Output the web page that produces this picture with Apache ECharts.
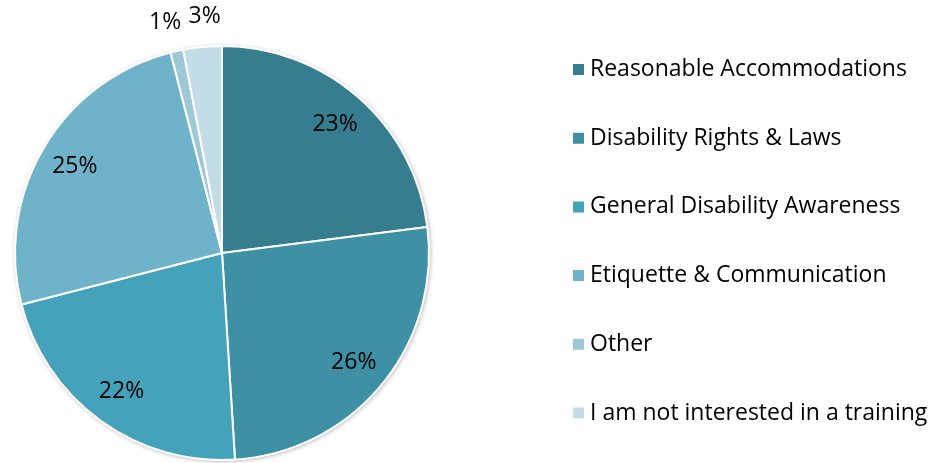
<!DOCTYPE html>
<html>
<head>
<meta charset="utf-8">
<script src="https://cdn.jsdelivr.net/npm/echarts@6/dist/echarts.min.js"></script>
<style>
  html, body { margin: 0; padding: 0; background: #ffffff; }
  #chart { width: 945px; height: 463px; }
</style>
</head>
<body>
<div id="chart"></div>
<script>
// Training topics of interest (percent of responses)
const categories = [
  'Reasonable Accommodations',
  'Disability Rights & Laws',
  'General Disability Awareness',
  'Etiquette & Communication',
  'Other',
  'I am not interested in a training'
];
const values = [23, 26, 22, 25, 1, 3];
const colors = ['#367e8f', '#3e90a5', '#45a2bb', '#6fb3ca', '#9fc8d7', '#c2dde6'];
// thin slices get their label just outside the rim
const outsideLabel = [false, false, false, false, true, true];

const FONT = '"Open Sans"';
const FS = 23;
const CX = 222, CY = 253, R = 207;
const INNER_LABEL_R = 168;
const OUTER_LABEL_R = 235;
// small nudge that keeps the two outside labels apart
const OUTER_NUDGE = { 4: [-5, 2], 5: [5, 0] };

const pieData = categories.map((name, i) => ({
  name, value: values[i], itemStyle: { color: colors[i] }
}));

const labelStyle = {
  position: 'inside',
  formatter: '{c}%',
  color: '#000000',
  fontFamily: FONT,
  fontSize: FS
};

// Transparent copy of the pie whose 'inside' labels sit at half its radius
function labelSeries(showFn, labelR, nudge) {
  const d = nudge || [0, 0];
  return {
    type: 'pie',
    silent: true,
    center: [CX, CY],
    radius: [0, labelR * 2],
    startAngle: 90,
    clockwise: true,
    avoidLabelOverlap: false,
    legendHoverLink: false,
    itemStyle: { color: 'rgba(0,0,0,0)' },
    label: labelStyle,
    labelLine: { show: false },
    labelLayout: { hideOverlap: false, dx: d[0], dy: d[1] },
    data: categories.map((name, i) => ({
      name, value: values[i], label: { show: showFn(i) }
    }))
  };
}

const series = [
  {
    // soft shadow along the rim
    type: 'pie',
    silent: true,
    center: [CX, CY],
    radius: R,
    legendHoverLink: false,
    label: { show: false },
    labelLine: { show: false },
    itemStyle: { color: '#ffffff', shadowBlur: 5, shadowColor: 'rgba(0,0,0,0.35)', shadowOffsetX: 1, shadowOffsetY: 1 },
    data: [{ name: '__rim', value: 1 }]
  },
  {
    type: 'pie',
    name: 'topics',
    center: [CX, CY],
    radius: R,
    startAngle: 90,
    clockwise: true,
    avoidLabelOverlap: false,
    label: { show: false },
    labelLine: { show: false },
    itemStyle: { borderColor: '#ffffff', borderWidth: 2 },
    data: pieData
  },
  labelSeries(i => !outsideLabel[i], INNER_LABEL_R, null)
];
// one series per outside label so each can be nudged on its own
outsideLabel.forEach((out, k) => {
  if (out) series.push(labelSeries(i => i === k, OUTER_LABEL_R, OUTER_NUDGE[k]));
});

const chart = echarts.init(document.getElementById('chart'), null, { renderer: 'canvas' });
chart.setOption({
  animation: false,
  backgroundColor: '#ffffff',
  legend: {
    orient: 'vertical',
    left: 571,
    top: 58,
    padding: 0,
    icon: 'rect',
    itemWidth: 13,
    itemHeight: 13,
    itemGap: 45.7,
    selectedMode: false,
    data: categories,
    textStyle: {
      fontFamily: FONT,
      fontSize: FS,
      color: '#000000'
    }
  },
  series: series
});
</script>
</body>
</html>
